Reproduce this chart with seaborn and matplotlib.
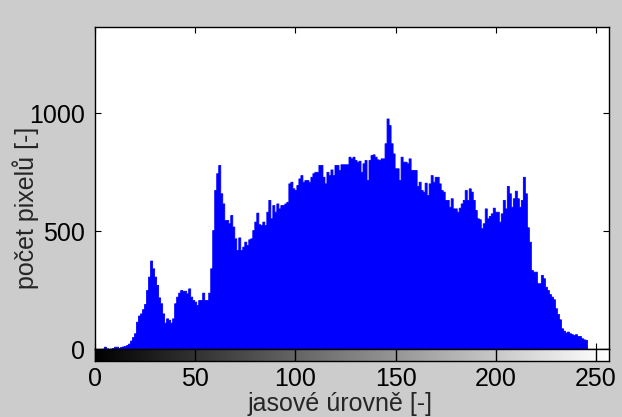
import numpy as np
import pandas as pd
import matplotlib
matplotlib.use("Agg")
import matplotlib.pyplot as plt
import seaborn as sns

# gray levels and pixel counts
levels = list(range(256))
counts = [
    0, 0, 0, 0, 3, 11, 4, 2, 3, 5, 11, 11, 6, 10, 12, 14,
    18, 24, 37, 52, 68, 117, 143, 152, 170, 192, 251, 308, 376, 343, 308, 273,
    220, 195, 152, 113, 131, 125, 113, 131, 195, 223, 240, 251, 248, 248, 237, 258,
    223, 209, 202, 188, 209, 209, 240, 209, 209, 240, 343, 505, 675, 746, 781, 661,
    618, 548, 548, 534, 569, 520, 470, 421, 474, 421, 435, 456, 442, 466, 470, 505,
    541, 579, 530, 527, 541, 527, 583, 633, 555, 611, 583, 618, 597, 611, 611, 618,
    625, 703, 710, 682, 675, 696, 724, 738, 710, 717, 717, 710, 731, 746, 752, 752,
    781, 781, 731, 703, 752, 738, 762, 738, 781, 781, 760, 784, 784, 784, 784, 816,
    809, 816, 802, 795, 799, 752, 788, 802, 717, 802, 823, 826, 816, 805, 802, 809,
    809, 873, 978, 950, 873, 830, 767, 767, 717, 816, 795, 795, 788, 809, 760, 760,
    760, 692, 710, 675, 668, 706, 654, 703, 738, 710, 731, 731, 703, 675, 668, 633,
    633, 604, 640, 597, 597, 583, 600, 618, 633, 675, 633, 682, 668, 633, 590, 555,
    551, 513, 534, 597, 555, 565, 576, 600, 583, 583, 541, 576, 633, 597, 692, 661,
    604, 640, 672, 640, 604, 633, 731, 661, 517, 456, 336, 329, 329, 280, 280, 315,
    301, 265, 251, 234, 223, 212, 174, 150, 127, 89, 79, 71, 75, 68, 64, 61,
    64, 56, 56, 47, 42, 40, 0, 0, 0, 0, 0, 0, 0, 0, 0, 0,
]
x_ticks = [0, 50, 100, 150, 200, 250]
y_ticks = [0, 500, 1000]

sns.set_style("ticks")
plt.rcParams["font.family"] = ["Liberation Sans", "DejaVu Sans"]

W, H = 622, 417
fig = plt.figure(figsize=(W / 100, H / 100), dpi=100, facecolor="#cccccc")
ax = fig.add_axes([95 / W, 1 - 349.3 / H, 514 / W, 322.6 / H])
cax = fig.add_axes([95 / W, 1 - 361 / H, 514 / W, 11.7 / H])

df = pd.DataFrame({"level": levels, "count": counts})
sns.histplot(data=df, x="level", weights="count", discrete=True,
             element="step", fill=True, color=(0, 0, 1), alpha=1,
             linewidth=0.6, ax=ax)

ax.set_xlim(0, 256.5)
ax.set_ylim(0, 1367)
ax.set_xticks(x_ticks)
ax.set_xticklabels([])
ax.set_yticks(y_ticks)
ax.set_xlabel("")
ax.set_ylabel("")
ax.set_axisbelow(True)
ax.set_facecolor("white")
ax.tick_params(direction="in", top=True, right=True, length=4, width=0.8,
               labelsize=18, pad=7, colors="black")
for s in ax.spines.values():
    s.set_color("black")
    s.set_linewidth(1)

# gray-level bar under the histogram
cax.imshow(np.arange(256)[None, :], cmap="gray", vmin=0, vmax=255,
           aspect="auto", extent=(-0.5, 255.5, 0, 1))
cax.set_facecolor("white")
cax.set_xlim(0, 256.5)
cax.set_ylim(0, 1)
cax.set_yticks([])
cax.set_xticks(x_ticks)
cax.tick_params(axis="x", direction="in", length=8.5, width=1,
                labelsize=18, pad=4, colors="black")
for s in cax.spines.values():
    s.set_color("black")
    s.set_linewidth(1)

fig.text(340 / W, 1 - 404 / H, "jasové úrovně [-]", fontsize=18,
         ha="center", va="center")
fig.text(26 / W, 1 - 208 / H, "počet pixelů [-]", fontsize=18,
         rotation=90, ha="center", va="center")

fig.savefig("out.png", dpi=100, facecolor=fig.get_facecolor())
